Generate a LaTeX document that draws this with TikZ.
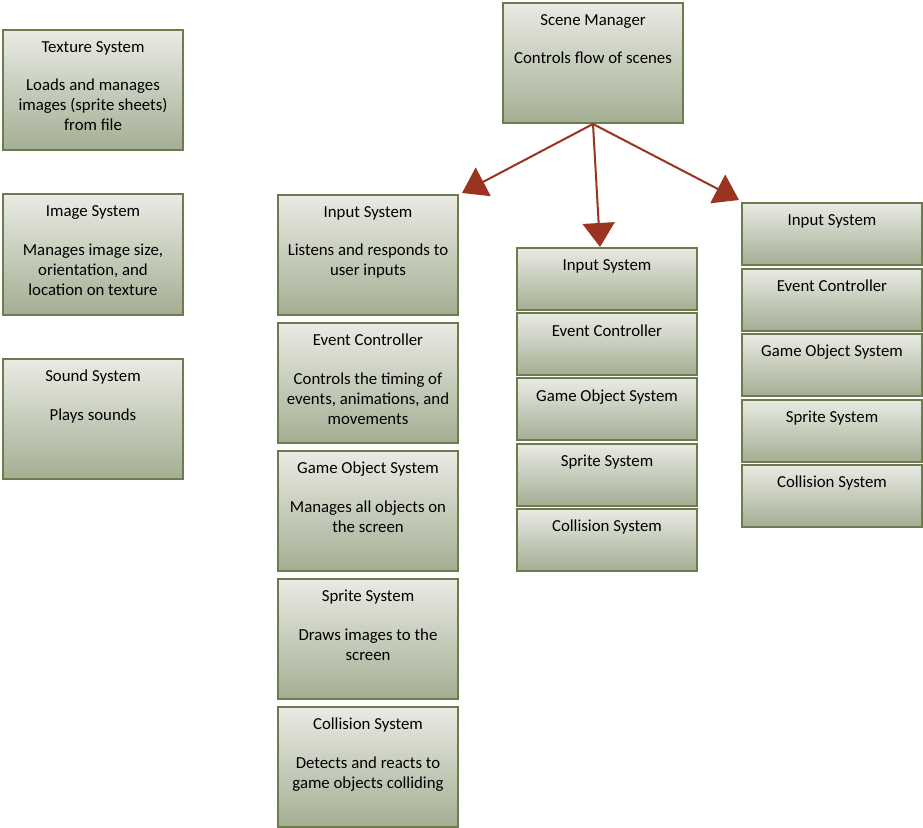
\documentclass[tikz,border=0pt]{standalone}
\usepackage{fontspec}
\setmainfont{Carlito}
\usetikzlibrary{arrows.meta}
\definecolor{boxtop}{HTML}{E9EBE4}
\definecolor{boxbot}{HTML}{A4AE93}
\definecolor{boxline}{HTML}{6E7B4E}
\definecolor{arrowred}{HTML}{9A3320}

\begin{document}
\begin{tikzpicture}[x=0.75pt, y=-0.75pt, >={Triangle[length=18pt,width=24pt]}, anchor=north west]

    \tikzset{%
    every system/.style={
        draw=boxline,
        line width=1.5pt,
        top color=boxtop,
        bottom color=boxbot,
        minimum width=135pt,
        inner sep=0pt
        },
    system tall/.style={minimum height=90pt},
    system short/.style={minimum height=46.5pt},
    system text/.style={
        anchor=north,
        align=center,
        inner sep=0pt,
        yshift=-9pt,
        font=\fontsize{12.6}{15}\selectfont
        },
    flow/.style={draw=arrowred, fill=arrowred, line width=1.5pt, ->},
    }

    \useasboundingbox (0,0) rectangle (923,827);

    % Scene manager on top
    \node [every system, system tall,
        label={[system text]north:{Scene Manager\\[14pt]Controls flow of scenes}}] (scene) at (502,2) {};

    % Shared systems on the left
    \foreach \t [count=\y] in {%
        {Texture System\\[14pt]Loads and manages\\images (sprite sheets)\\from file},
        {Image System\\[14pt]Manages image size,\\orientation, and\\location on texture},
        {Sound System\\[14pt]Plays sounds}}
    \node [every system, system tall, label={[system text]north:{\t}}] (lib-\y) at (2,29+\y*164.5-164.5) {};

    % First scene with descriptions
    \foreach \t [count=\y] in {%
        {Input System\\[14pt]Listens and responds to\\user inputs},
        {Event Controller\\[14pt]Controls the timing of\\events, animations, and\\movements},
        {Game Object System\\[14pt]Manages all objects on\\the screen},
        {Sprite System\\[14pt]Draws images to the\\screen},
        {Collision System\\[14pt]Detects and reacts to\\game objects colliding}}
    \node [every system, system tall, label={[system text]north:{\t}}] (left-\y) at (277,194+\y*128-128) {};

    % Second scene
    \foreach \t [count=\y] in {Input System,Event Controller,Game Object System,Sprite System,Collision System}
    \node [every system, system short, label={[system text]north:{\t}}] (mid-\y) at (516,247+\y*65.2-65.2) {};

    % Third scene
    \foreach \t [count=\y] in {Input System,Event Controller,Game Object System,Sprite System,Collision System}
    \node [every system, system short, label={[system text]north:{\t}}] (right-\y) at (741,202+\y*65.5-65.5) {};

    % Arrow tips
    \coordinate (tip-1) at (462,193);
    \coordinate (tip-2) at (600,247);
    \coordinate (tip-3) at (739,200);

    % Scene manager arrows
    \foreach \i in {1,2,3}
    \draw [flow] (scene.south) -- (tip-\i);

\end{tikzpicture}
\end{document}
